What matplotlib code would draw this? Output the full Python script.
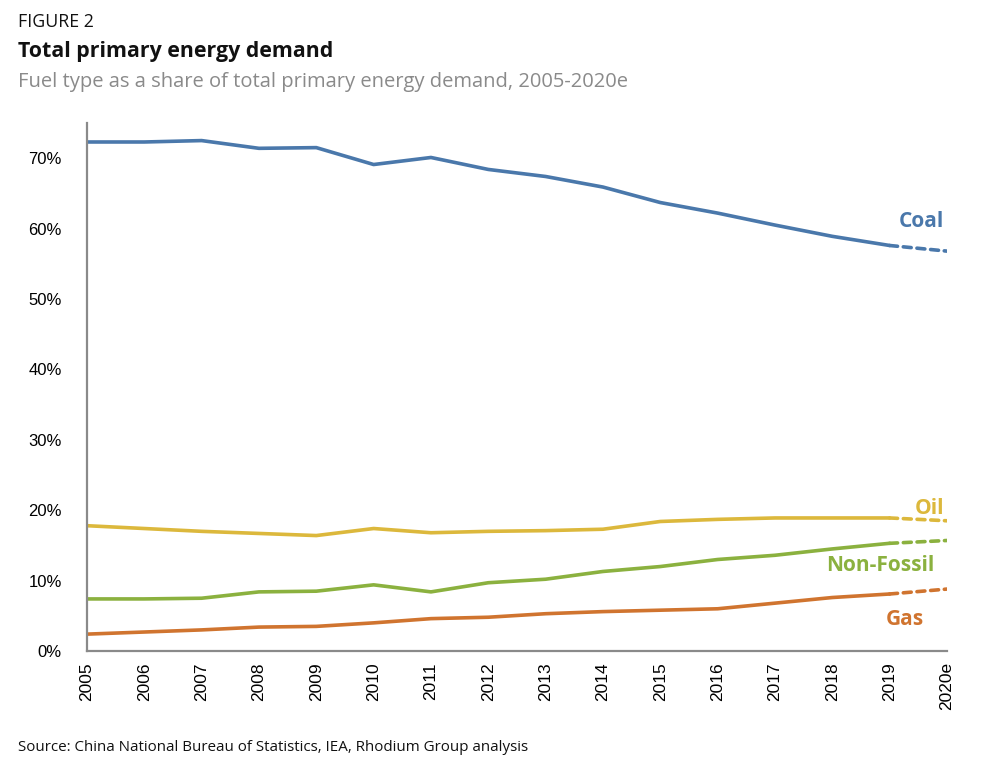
import matplotlib
matplotlib.use("Agg")
import matplotlib.pyplot as plt

years = ["2005", "2006", "2007", "2008", "2009", "2010", "2011", "2012",
         "2013", "2014", "2015", "2016", "2017", "2018", "2019", "2020e"]
coal = [72.3, 72.3, 72.5, 71.4, 71.5, 69.1, 70.1, 68.4, 67.4, 65.9, 63.7, 62.2, 60.5, 58.9, 57.6, 56.8]
oil = [17.8, 17.4, 17.0, 16.7, 16.4, 17.4, 16.8, 17.0, 17.1, 17.3, 18.4, 18.7, 18.9, 18.9, 18.9, 18.5]
nonfossil = [7.4, 7.4, 7.5, 8.4, 8.5, 9.4, 8.4, 9.7, 10.2, 11.3, 12.0, 13.0, 13.6, 14.5, 15.3, 15.7]
gas = [2.4, 2.7, 3.0, 3.4, 3.5, 4.0, 4.6, 4.8, 5.3, 5.6, 5.8, 6.0, 6.8, 7.6, 8.1, 8.8]
yticks = [0, 10, 20, 30, 40, 50, 60, 70]

series = [
    ("Coal", coal, "#4a78ab"),
    ("Oil", oil, "#dcb83c"),
    ("Non-Fossil", nonfossil, "#8bb13f"),
    ("Gas", gas, "#d0742f"),
]

FONT = ["Open Sans", "DejaVu Sans"]
TICKFONT = ["Liberation Sans", "DejaVu Sans"]

fig = plt.figure(figsize=(9.86, 7.72), dpi=100)
ax = fig.add_axes([0.0882, 0.1567, 0.8722, 0.684])

x = list(range(len(years)))
for name, vals, col in series:
    ax.plot(x[:-1], vals[:-1], color=col, lw=2.6, solid_capstyle="round", solid_joinstyle="round")
    ax.plot(x[-2:], vals[-2:], color=col, lw=2.6, linestyle=(0, (2.2, 1.6)), dash_capstyle="round")

ax.set_xlim(0, len(years) - 1)
ax.set_ylim(0, 75)
ax.set_xticks(x)
ax.set_xticklabels(years, rotation=90, fontsize=12.5, family=TICKFONT)
ax.set_yticks(yticks)
ax.set_yticklabels([f"{v}%" for v in yticks], fontsize=12, family=TICKFONT)
ax.tick_params(axis="x", length=0, pad=8)
ax.tick_params(axis="y", length=0, pad=18)
for s in ["top", "right"]:
    ax.spines[s].set_visible(False)
for s in ["left", "bottom"]:
    ax.spines[s].set_color("#8a8a8a")
    ax.spines[s].set_linewidth(1.6)

# series labels
label_pos = {"Coal": (14.95, 61.0), "Oil": (14.95, 20.3), "Non-Fossil": (14.78, 12.2), "Gas": (14.6, 4.5)}
for name, vals, col in series:
    lx, ly = label_pos[name]
    ax.text(lx, ly, name, color=col, fontsize=15, fontweight="bold", ha="right", va="center", family=FONT)

fig.text(0.018, 0.971, "FIGURE 2", fontsize=12.8, family=FONT, va="center", color="#111111")
fig.text(0.018, 0.933, "Total primary energy demand", fontsize=15.4, fontweight="bold", family=FONT, va="center", color="#111111")
fig.text(0.018, 0.894, "Fuel type as a share of total primary energy demand, 2005-2020e", fontsize=14.5, family=FONT, va="center", color="#8a8a8a")
fig.text(0.018, 0.032, "Source: China National Bureau of Statistics, IEA, Rhodium Group analysis", fontsize=10.9, family=FONT, va="center", color="#111111")

fig.savefig("out.png", dpi=100)
